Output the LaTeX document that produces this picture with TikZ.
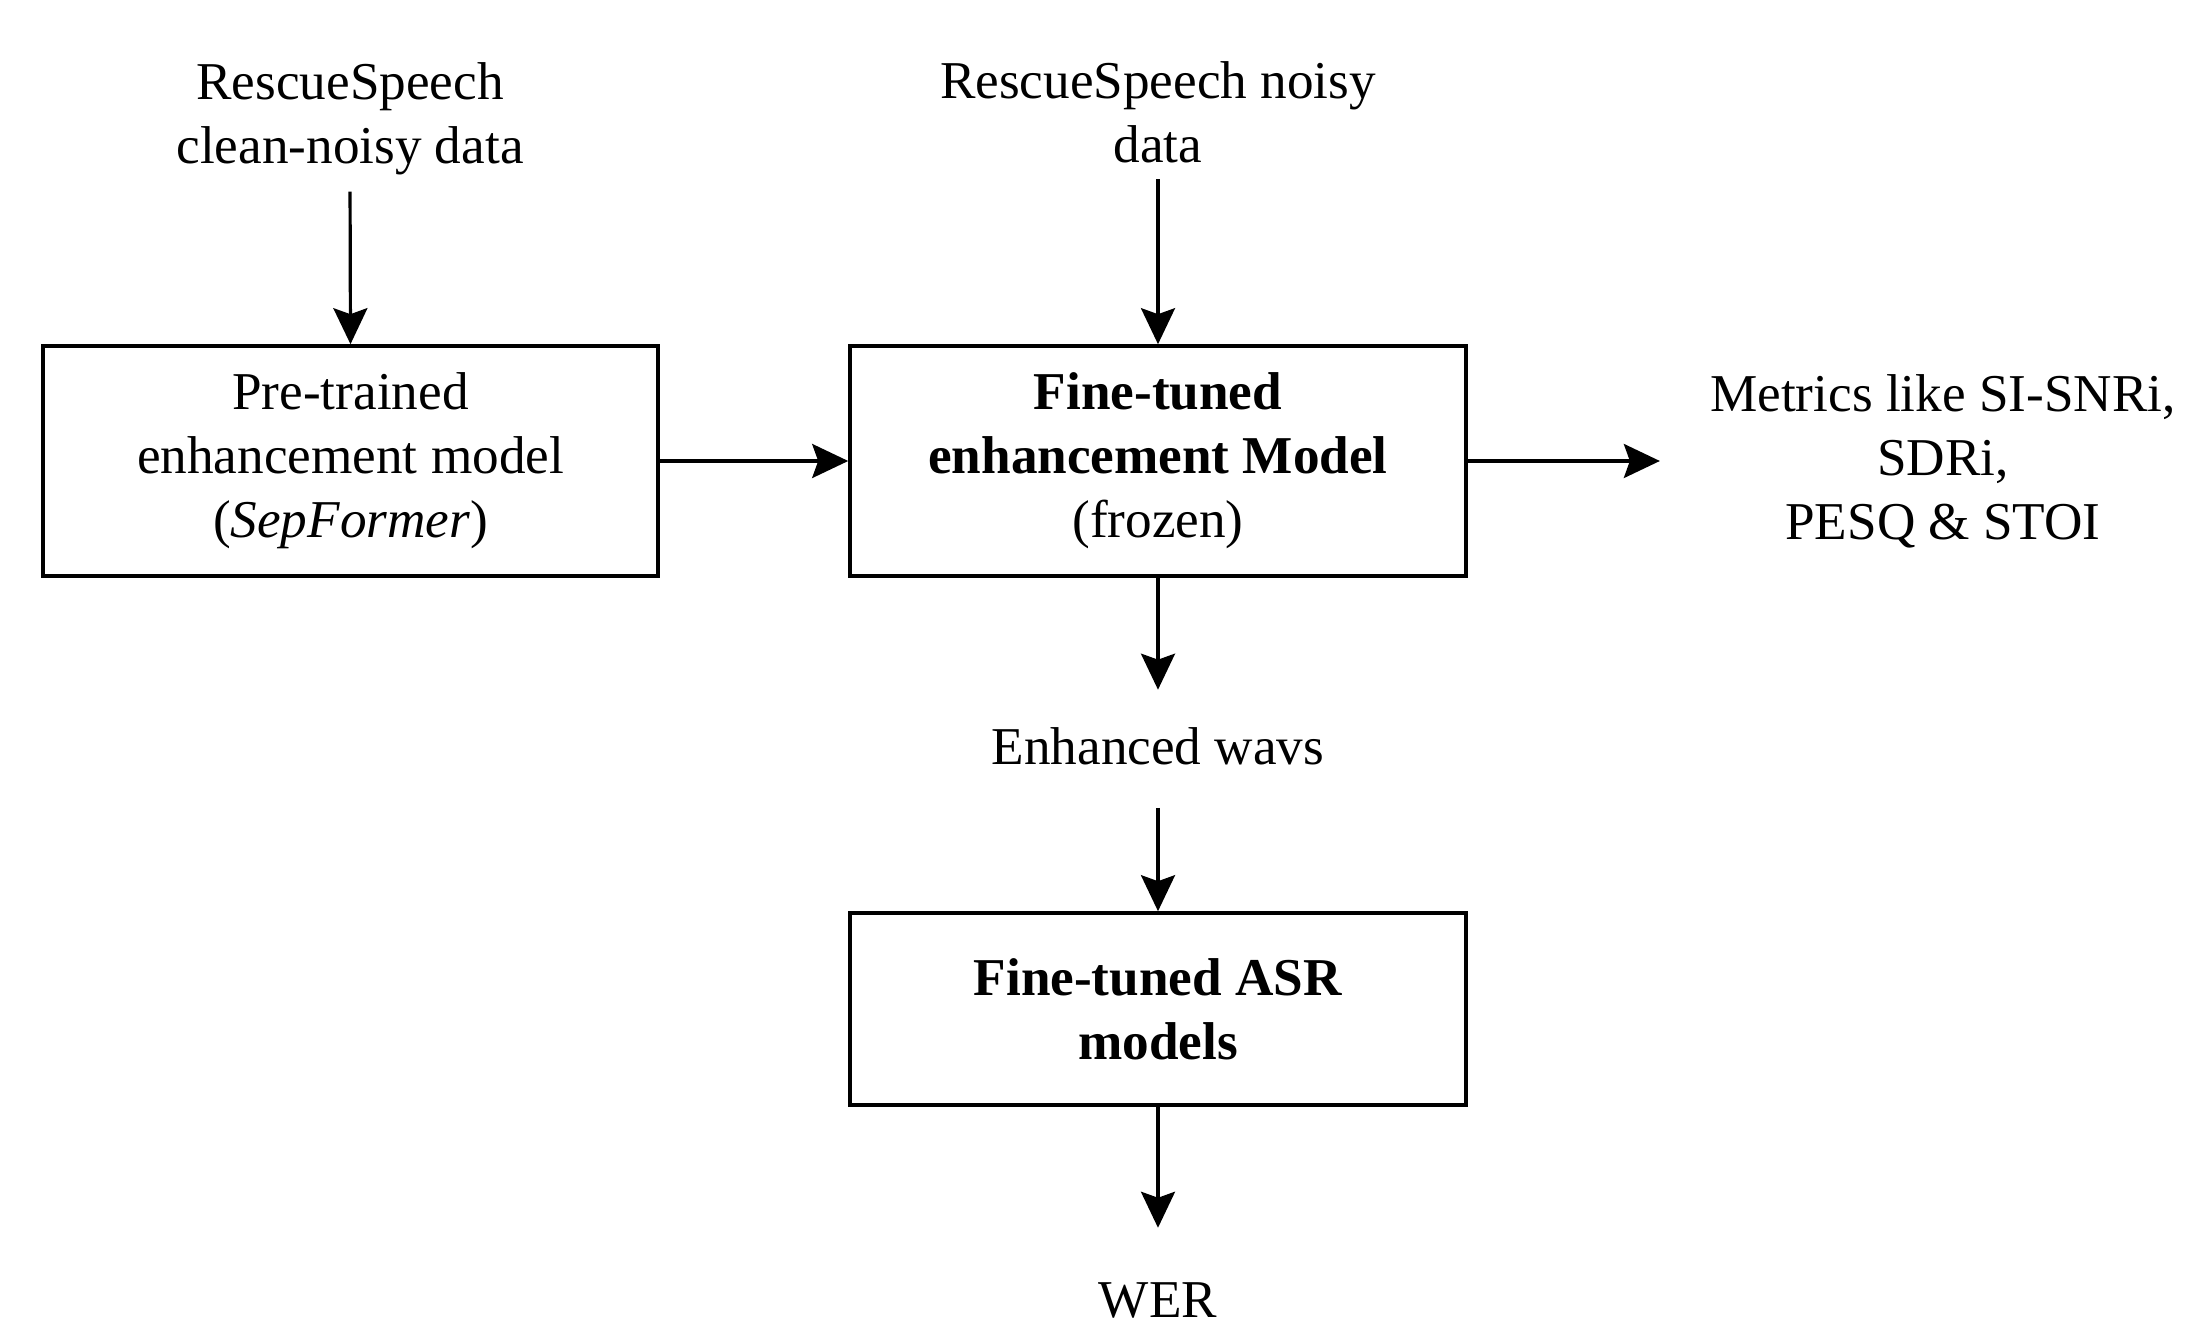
\documentclass[tikz,border=0pt]{standalone}
\usepackage{fontspec}
\setmainfont{Liberation Serif}
\usetikzlibrary{arrows.meta}
\begin{document}
\begin{tikzpicture}[x=0.5pt,y=-0.5pt,
  every node/.style={font=\fontsize{26.6}{32}\selectfont, align=center},
  box/.style={draw, line width=1.8pt, inner sep=0pt},
  txt/.style={inner sep=0pt},
  arr/.style={line width=1.6pt, -{Stealth[length=18pt,width=17pt,inset=3pt]}}]
\useasboundingbox (0,0) rectangle (2185,1325);
% boxes
\node[box, minimum width=307.5pt, minimum height=115pt] (b1) at (350.5,461) {Pre-trained\\enhancement model\\(\textit{SepFormer})};
\node[box, minimum width=308pt, minimum height=115pt] (b2) at (1158,461) {\textbf{Fine-tuned}\\\textbf{enhancement Model}\\(frozen)};
\node[box, minimum width=308pt, minimum height=96pt] (b3) at (1158,1009) {\textbf{Fine-tuned ASR}\\\textbf{models}};
% texts
\node[txt] (t1) at (350,119) {RescueSpeech\\clean-noisy data};
\node[txt] (t2) at (1158,112) {RescueSpeech noisy\\data};
\node[txt] (m) at (1943,461) {Metrics like SI-SNRi,\\SDRi,\\PESQ \& STOI};
\node[txt, anchor=base] (ew) at (1158,765) {Enhanced wavs};
\node[txt, anchor=base] (wer) at (1158,1317) {WER};
% connectors
\draw[arr, shorten <=8pt] (t1.south) -- (b1.north);
\draw[arr, shorten <=8pt] (t2.south) -- (b2.north);
\draw[arr] (b1.east) -- (b2.west);
\draw[arr, shorten >=25pt] (b2.east) -- (b2.east -| m.west);
\draw[arr, shorten >=19pt] (b2.south) -- (ew.north);
\draw[arr, shorten <=21pt] (ew.south) -- (b3.north);
\draw[arr, shorten >=27pt] (b3.south) -- (wer.north);
\end{tikzpicture}
\end{document}
